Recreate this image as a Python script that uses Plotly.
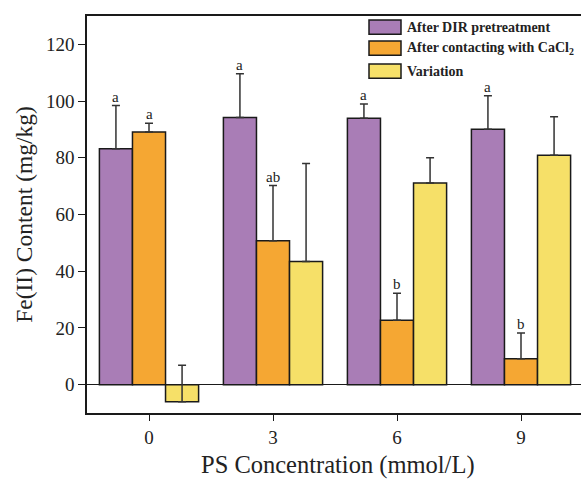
import plotly.graph_objects as go

categories = ["0", "3", "6", "9"]
series_names = ["After DIR pretreatment", "After contacting with CaCl<sub>2</sub>", "Variation"]
dir_values = [83.2, 94.2, 93.9, 90.1]
dir_err = [15.2, 15.4, 5.1, 11.8]
cacl_values = [89.1, 50.7, 22.7, 9.1]
cacl_err = [3.1, 19.5, 9.5, 9.1]
var_values = [-6.0, 43.4, 71.1, 80.9]
var_err = [12.8, 34.6, 8.9, 13.6]
dir_letters = ["a", "a", "a", "a"]
cacl_letters = ["a", "ab", "b", "b"]
colors = ["#A97DB6", "#F5A733", "#F6E068"]
x_title = "PS Concentration (mmol/L)"
y_title = "Fe(II) Content (mg/kg)"

values = [dir_values, cacl_values, var_values]
errors = [dir_err, cacl_err, var_err]
letters = [dir_letters, cacl_letters, None]

xs = list(range(len(categories)))
bargap = 0.2
nser = len(values)
bw = (1 - bargap) / nser

FONT = "Liberation Serif, Times New Roman, serif"
fig = go.Figure()
for i in range(nser):
    fig.add_trace(go.Bar(
        x=xs, y=values[i], name=series_names[i],
        marker=dict(color=colors[i], line=dict(color="#1a1a1a", width=1.5)),
        error_y=dict(type="data", array=errors[i], arrayminus=[0] * len(xs),
                     symmetric=False, color="#333333", thickness=1.5, width=4),
        showlegend=False,
    ))

annotations = []
for i in range(nser):
    if letters[i] is None:
        continue
    off = (i - (nser - 1) / 2) * bw
    for j, x in enumerate(xs):
        annotations.append(dict(
            x=x + off, y=values[i][j] + errors[i][j], xref="x", yref="y",
            text=letters[i][j], showarrow=False, yanchor="bottom", yshift=-1,
            font=dict(family=FONT, size=15, color="#222")))

# manual legend (plot area spans 87..590 px horizontally, 16..413 px vertically)
W = 590
pw = W - 87
ph = 413 - 16
def px(xp):
    return (xp - 87) / pw

shapes = []
rows = [0.972, 0.919, 0.861]
for i in range(nser):
    shapes.append(dict(type="rect", xref="paper", yref="paper",
                       x0=px(369), x1=px(401), y0=rows[i] - 0.018, y1=rows[i] + 0.018,
                       fillcolor=colors[i], line=dict(color="#1a1a1a", width=1.5)))
    annotations.append(dict(x=px(405), y=rows[i], xref="paper", yref="paper",
                            text="<b>" + series_names[i] + "</b>", showarrow=False,
                            xanchor="left", yanchor="middle",
                            font=dict(family=FONT, size=14, color="#222")))

# x-axis title placed as annotation centred under categories
annotations.append(dict(x=px(338), y=(413 - 465) / ph, xref="paper", yref="paper",
                        text=x_title, showarrow=False, xanchor="center", yanchor="middle",
                        font=dict(family=FONT, size=24.5, color="#222")))

fig.update_layout(
    width=W, height=479,
    margin=dict(l=87, r=0, t=16, b=66),
    paper_bgcolor="white", plot_bgcolor="white",
    barmode="group", bargap=bargap, bargroupgap=0,
    font=dict(family=FONT, color="#222"),
    annotations=annotations, shapes=shapes,
    xaxis=dict(range=[-0.5, -0.5 + pw / 124.0], tickvals=xs, ticktext=categories,
               automargin=False,
               showline=True, linecolor="#1a1a1a", linewidth=1.5, mirror=True,
               ticks="outside", ticklen=6, tickwidth=1.2, tickcolor="#1a1a1a",
               showgrid=False, zeroline=False,
               tickfont=dict(family=FONT, size=19, color="#222")),
    yaxis=dict(range=[-10, 130], tickvals=[0, 20, 40, 60, 80, 100, 120],
               automargin=False,
               showline=True, linecolor="#1a1a1a", linewidth=1.5, mirror=False,
               ticks="outside", ticklen=7, tickwidth=1.2, tickcolor="#1a1a1a",
               showgrid=False, zeroline=True, zerolinecolor="#1a1a1a", zerolinewidth=1,
               tickfont=dict(family=FONT, size=19, color="#222"),
               title=dict(text=y_title, standoff=7,
                          font=dict(family=FONT, size=23.5, color="#222"))),
)

fig.write_html("out.html", config={"displayModeBar": False},
               post_script="document.body.style.margin='0';document.body.style.overflow='hidden';")
